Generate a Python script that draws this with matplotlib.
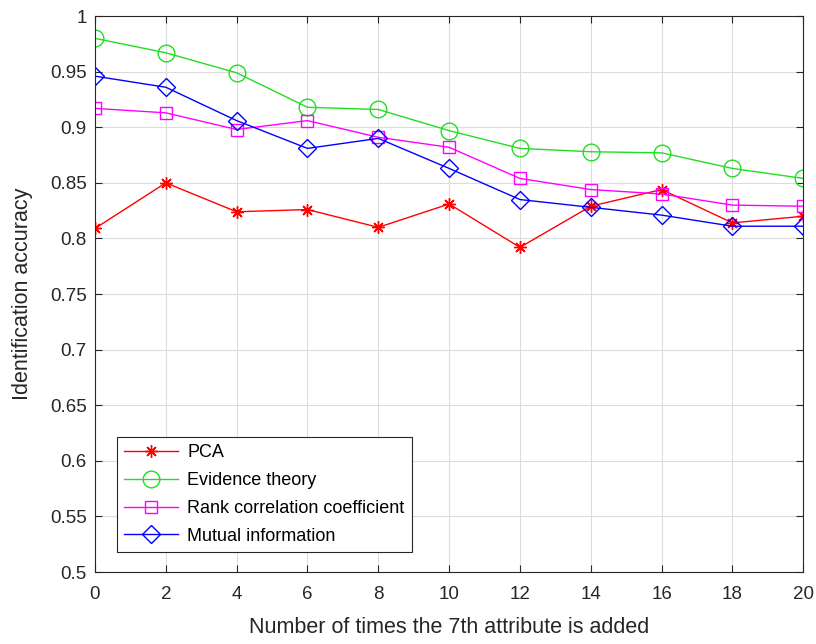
import matplotlib.pyplot as plt

plt.rcParams['font.family'] = ['Liberation Sans', 'DejaVu Sans']

x_vals = [0, 2, 4, 6, 8, 10, 12, 14, 16, 18, 20]
pca = [0.809, 0.850, 0.824, 0.826, 0.810, 0.831, 0.792, 0.829, 0.844, 0.814, 0.820]
evidence = [0.980, 0.967, 0.949, 0.918, 0.916, 0.897, 0.881, 0.878, 0.877, 0.863, 0.854]
rank_corr = [0.917, 0.913, 0.898, 0.906, 0.891, 0.882, 0.854, 0.844, 0.840, 0.830, 0.829]
mutual = [0.946, 0.936, 0.906, 0.881, 0.890, 0.863, 0.835, 0.828, 0.821, 0.811, 0.811]
labels = ['PCA', 'Evidence theory', 'Rank correlation coefficient', 'Mutual information']

fig = plt.figure(figsize=(8.16, 6.44), dpi=100)
ax = fig.add_axes([0.1164, 0.1118, 0.868, 0.8632])

# matlab style asterisk
ax.plot(x_vals, pca, color='#ff0000', marker=(8, 2, 0), ms=9, lw=1, mew=1, label=labels[0])
ax.plot(x_vals, evidence, color='#22dd22', marker='o', ms=12, mfc='none', lw=1, label=labels[1])
ax.plot(x_vals, rank_corr, color='#ff00ff', marker='s', ms=8, mfc='none', lw=1, label=labels[2])
ax.plot(x_vals, mutual, color='#0000ff', marker='D', ms=9, mfc='none', lw=1, label=labels[3])

ax.set_xlim(0, 20)
ax.set_ylim(0.5, 1)
ax.set_xticks(range(0, 21, 2))
ax.set_yticks([0.5, 0.55, 0.6, 0.65, 0.7, 0.75, 0.8, 0.85, 0.9, 0.95, 1])
ax.set_yticklabels(['0.5', '0.55', '0.6', '0.65', '0.7', '0.75', '0.8', '0.85', '0.9', '0.95', '1'])
ax.grid(True, color='#dcdcdc', lw=0.8)
ax.tick_params(direction='in', colors='#262626', labelsize=13.5, top=True, right=True, length=5)
ax.tick_params(axis='x', pad=10)
ax.tick_params(axis='y', pad=6)
for s in ax.spines.values():
    s.set_color('#262626')
    s.set_linewidth(0.8)

ax.set_xlabel('Number of times the 7th attribute is added', fontsize=15.5, color='#262626', labelpad=10)
ax.set_ylabel('Identification accuracy', fontsize=15.5, color='#262626', labelpad=12)

leg = ax.legend(loc='lower left', bbox_to_anchor=(0.031, 0.036), borderaxespad=0,
                fontsize=13, fancybox=False, edgecolor='#262626', framealpha=1,
                handlelength=3, labelspacing=0.6, handletextpad=0.5)
leg.get_frame().set_linewidth(0.8)

plt.savefig('out.png', dpi=100)
